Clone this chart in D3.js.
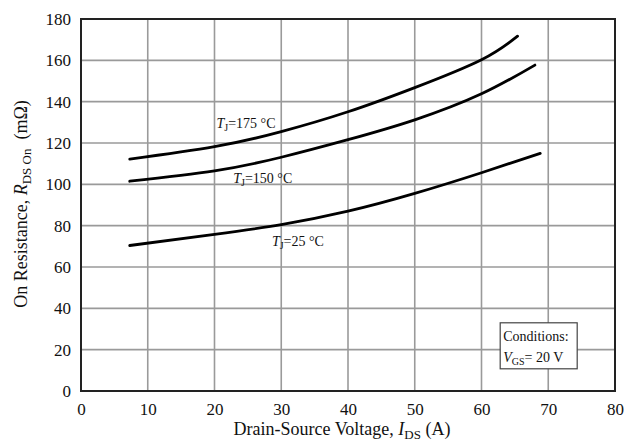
<!DOCTYPE html>
<html>
<head>
<meta charset="utf-8">
<script src="https://cdn.jsdelivr.net/npm/d3@7"></script>
<style>
  body { margin: 0; background: #fff; }
  text { font-family: "Liberation Serif", "Times New Roman", serif; fill: #111; }
</style>
</head>
<body>
<div id="wrapper"></div>
<script>
// data
const xTicks = [0, 10, 20, 30, 40, 50, 60, 70, 80];
const yTicks = [0, 20, 40, 60, 80, 100, 120, 140, 160, 180];

const current175 = [7.3, 20, 30, 40, 50, 60, 65.4];
const rds175 = [112.2, 118.2, 125.5, 135.1, 146.8, 160.3, 171.7];

const current150 = [7.3, 20, 30, 40, 50, 60, 68];
const rds150 = [101.5, 106.5, 113.1, 121.6, 131.2, 143.8, 157.7];

const current25 = [7.3, 20, 30, 40, 50, 60, 68.8];
const rds25 = [70.4, 75.8, 80.5, 87, 95.6, 105.6, 115];

const curveLabels = [
  { text: "=175 °C", x: 20.3, y: 127.4 },
  { text: "=150 °C", x: 22.8, y: 100.6 },
  { text: "=25 °C", x: 28.6, y: 70.2 },
];

function drawChart() {
  const dimensions = {
    width: 624,
    height: 442,
    margin: { top: 19, right: 9, bottom: 51, left: 81 },
  };
  dimensions.boundedWidth = dimensions.width - dimensions.margin.left - dimensions.margin.right;
  dimensions.boundedHeight = dimensions.height - dimensions.margin.top - dimensions.margin.bottom;

  const wrapper = d3.select("#wrapper")
    .append("svg")
    .attr("width", dimensions.width)
    .attr("height", dimensions.height);

  const bounds = wrapper.append("g")
    .attr("transform", `translate(${dimensions.margin.left},${dimensions.margin.top})`);

  const xScale = d3.scaleLinear().domain([0, 80]).range([0, dimensions.boundedWidth]);
  const yScale = d3.scaleLinear().domain([0, 180]).range([dimensions.boundedHeight, 0]);

  // grid
  bounds.append("g").selectAll("line")
    .data(xTicks.slice(1, -1))
    .join("line")
    .attr("x1", d => xScale(d)).attr("x2", d => xScale(d))
    .attr("y1", 0).attr("y2", dimensions.boundedHeight)
    .attr("stroke", "#9a9a9a").attr("stroke-width", 1.6);

  bounds.append("g").selectAll("line")
    .data(yTicks.slice(1, -1))
    .join("line")
    .attr("y1", d => yScale(d)).attr("y2", d => yScale(d))
    .attr("x1", 0).attr("x2", dimensions.boundedWidth)
    .attr("stroke", "#9a9a9a").attr("stroke-width", 1.6);

  // frame
  bounds.append("rect")
    .attr("width", dimensions.boundedWidth)
    .attr("height", dimensions.boundedHeight)
    .attr("fill", "none")
    .attr("stroke", "#222")
    .attr("stroke-width", 2);

  // tick labels
  const xAxis = d3.axisBottom(xScale).tickValues(xTicks).tickSize(0).tickPadding(12);
  const xAxisGroup = bounds.append("g")
    .attr("transform", `translate(0,${dimensions.boundedHeight})`)
    .call(xAxis);
  const yAxis = d3.axisLeft(yScale).tickValues(yTicks).tickSize(0).tickPadding(10);
  const yAxisGroup = bounds.append("g").call(yAxis);
  [xAxisGroup, yAxisGroup].forEach(g => {
    g.select(".domain").remove();
    g.selectAll("text")
      .style("font-family", "'Liberation Serif', serif")
      .style("font-size", "17px")
      .attr("fill", "#111");
  });

  // curves
  const lineGenerator = d3.line()
    .x(d => xScale(d[0]))
    .y(d => yScale(d[1]))
    .curve(d3.curveNatural);

  const series = [
    d3.zip(current175, rds175),
    d3.zip(current150, rds150),
    d3.zip(current25, rds25),
  ];
  bounds.append("g").selectAll("path")
    .data(series)
    .join("path")
    .attr("d", lineGenerator)
    .attr("fill", "none")
    .attr("stroke", "#000")
    .attr("stroke-width", 2.8)
    .attr("stroke-linecap", "round");

  // curve labels
  curveLabels.forEach(l => {
    const t = bounds.append("text")
      .attr("x", xScale(l.x))
      .attr("y", yScale(l.y))
      .style("font-size", "14px");
    t.append("tspan").style("font-style", "italic").text("T");
    t.append("tspan").attr("dy", 3).style("font-size", "10px").text("J");
    t.append("tspan").attr("dy", -3).text(l.text);
  });

  // conditions box
  const box = bounds.append("g")
    .attr("transform", `translate(${xScale(62.8)},${yScale(33)})`);
  box.append("rect")
    .attr("width", 77).attr("height", 46)
    .attr("fill", "#fff").attr("stroke", "#444").attr("stroke-width", 1.2);
  box.append("text").attr("x", 3).attr("y", 18).style("font-size", "14px").text("Conditions:");
  const vgs = box.append("text").attr("x", 3).attr("y", 39).style("font-size", "14px");
  vgs.append("tspan").style("font-style", "italic").text("V");
  vgs.append("tspan").attr("dy", 3).style("font-size", "10px").text("GS");
  vgs.append("tspan").attr("dy", -3).text("= 20 V");

  // axis titles
  const xTitle = wrapper.append("text")
    .attr("x", 342)
    .attr("y", 435)
    .attr("text-anchor", "middle")
    .style("font-size", "18px");
  xTitle.append("tspan").text("Drain-Source Voltage, ");
  xTitle.append("tspan").style("font-style", "italic").text("I");
  xTitle.append("tspan").attr("dy", 4).style("font-size", "13px").text("DS");
  xTitle.append("tspan").attr("dy", -4).text(" (A)");

  const yTitle = wrapper.append("text")
    .attr("transform", "translate(27,204) rotate(-90)")
    .attr("text-anchor", "middle")
    .style("font-size", "18px")
    .attr("xml:space", "preserve");
  yTitle.append("tspan").text("On Resistance, ");
  yTitle.append("tspan").style("font-style", "italic").text("R");
  yTitle.append("tspan").attr("dy", 4).style("font-size", "13px").text("DS On");
  yTitle.append("tspan").attr("dy", -4).text("  (m\u03A9)");
}

drawChart();
</script>
</body>
</html>
